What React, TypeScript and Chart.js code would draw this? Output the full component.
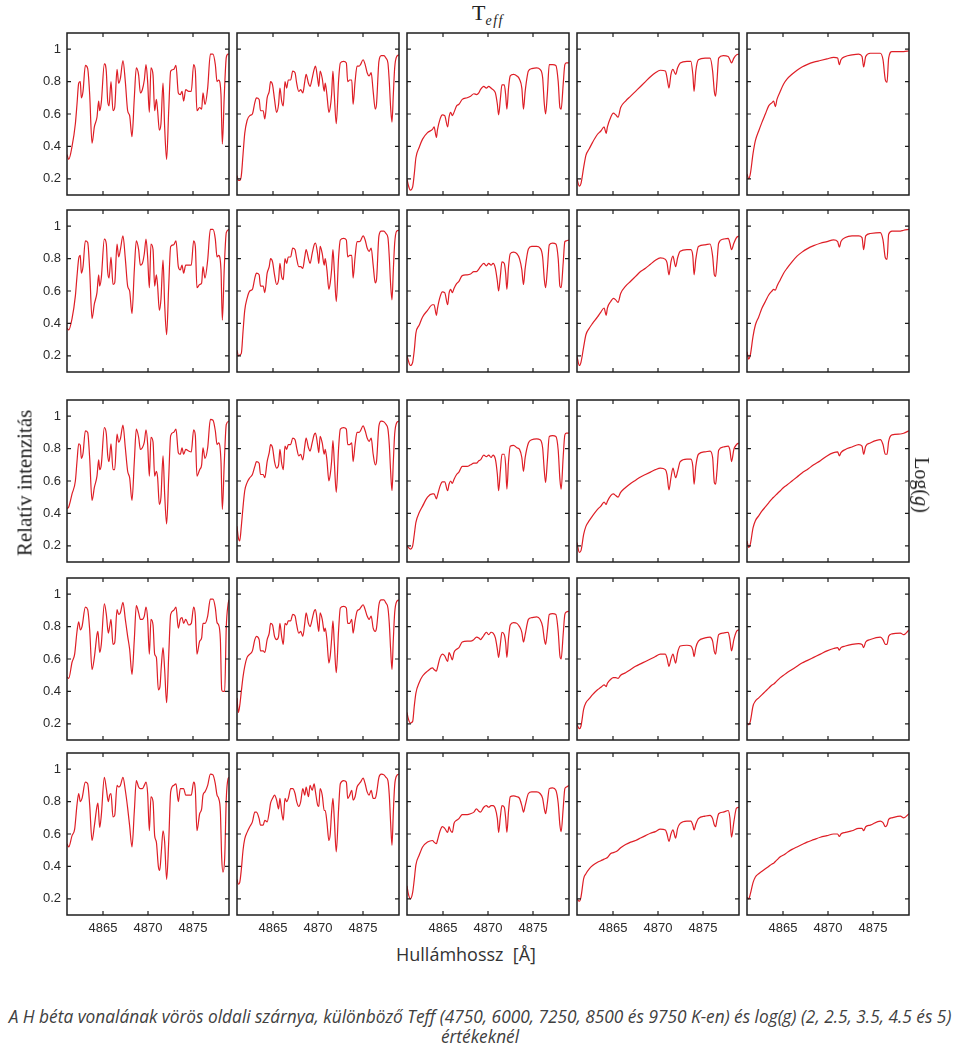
import React, { useEffect, useRef } from "react";
import { Chart, registerables } from "chart.js";

Chart.register(...registerables);

// ---------- axes ----------
const TEFF_VALUES = [4750, 6000, 7250, 8500, 9750]; // columns
const LOGG_VALUES = [2, 2.5, 3.5, 4.5, 5]; // rows
const X_TICKS = [4865, 4870, 4875];
const Y_TICKS = [0.2, 0.4, 0.6, 0.8, 1];
const X_MIN = 4861;
const X_MAX = 4879;
const Y_MIN = 0.1;
const Y_MAX = 1.1;

// ---------- Teff = 4750 K : [wavelength, intensity] ----------
const s4750_g20: number[][] = [[4861.00,0.35],[4861.19,0.32],[4861.56,0.40],[4861.93,0.54],[4862.11,0.66],[4862.30,0.79],[4862.48,0.80],[4862.59,0.70],[4862.78,0.74],[4863.04,0.90],[4863.30,0.88],[4863.52,0.72],[4863.78,0.42],[4864.04,0.52],[4864.33,0.58],[4864.52,0.68],[4864.63,0.62],[4864.81,0.67],[4865.15,0.91],[4865.37,0.86],[4865.52,0.68],[4865.67,0.65],[4865.89,0.80],[4866.11,0.62],[4866.30,0.64],[4866.56,0.875],[4866.74,0.79],[4866.93,0.82],[4867.22,0.93],[4867.48,0.80],[4867.74,0.62],[4867.96,0.59],[4868.22,0.46],[4868.48,0.70],[4868.70,0.885],[4868.96,0.84],[4869.15,0.73],[4869.37,0.75],[4869.59,0.81],[4869.78,0.905],[4869.96,0.80],[4870.15,0.61],[4870.33,0.885],[4870.56,0.84],[4870.74,0.62],[4870.93,0.69],[4871.07,0.62],[4871.26,0.50],[4871.44,0.54],[4871.67,0.79],[4871.85,0.52],[4872.07,0.32],[4872.30,0.62],[4872.52,0.865],[4872.85,0.875],[4873.11,0.90],[4873.37,0.73],[4873.59,0.72],[4873.78,0.74],[4873.96,0.68],[4874.19,0.75],[4874.52,0.74],[4874.81,0.74],[4875.07,0.905],[4875.26,0.865],[4875.44,0.62],[4875.74,0.64],[4875.96,0.63],[4876.11,0.73],[4876.33,0.66],[4876.63,0.76],[4876.93,0.97],[4877.22,0.97],[4877.48,0.905],[4877.67,0.80],[4877.85,0.81],[4878.11,0.72],[4878.26,0.415],[4878.48,0.72],[4878.70,0.95],[4878.89,0.97],[4879.00,0.97]];
const s4750_g25: number[][] = [[4861.00,0.37],[4861.19,0.36],[4861.56,0.43],[4861.93,0.57],[4862.11,0.69],[4862.30,0.80],[4862.48,0.82],[4862.59,0.71],[4862.78,0.75],[4863.04,0.91],[4863.30,0.90],[4863.52,0.73],[4863.78,0.43],[4864.04,0.52],[4864.33,0.59],[4864.52,0.70],[4864.63,0.63],[4864.81,0.68],[4865.15,0.92],[4865.37,0.89],[4865.52,0.72],[4865.67,0.68],[4865.89,0.81],[4866.11,0.64],[4866.30,0.65],[4866.56,0.89],[4866.74,0.81],[4866.93,0.855],[4867.22,0.94],[4867.48,0.80],[4867.74,0.63],[4867.96,0.60],[4868.22,0.46],[4868.48,0.73],[4868.70,0.91],[4868.96,0.855],[4869.15,0.76],[4869.37,0.77],[4869.59,0.83],[4869.78,0.92],[4869.96,0.81],[4870.15,0.62],[4870.33,0.89],[4870.56,0.855],[4870.74,0.63],[4870.93,0.70],[4871.07,0.63],[4871.26,0.48],[4871.44,0.55],[4871.67,0.79],[4871.85,0.52],[4872.07,0.33],[4872.30,0.63],[4872.52,0.875],[4872.85,0.885],[4873.11,0.91],[4873.37,0.75],[4873.59,0.73],[4873.78,0.76],[4873.96,0.71],[4874.19,0.76],[4874.52,0.76],[4874.81,0.76],[4875.07,0.91],[4875.26,0.875],[4875.44,0.62],[4875.74,0.64],[4875.96,0.65],[4876.11,0.75],[4876.33,0.68],[4876.63,0.79],[4876.93,0.98],[4877.22,0.98],[4877.48,0.92],[4877.67,0.81],[4877.85,0.82],[4878.11,0.73],[4878.26,0.42],[4878.48,0.75],[4878.70,0.96],[4879.00,0.98]];
const s4750_g35: number[][] = [[4861.00,0.43],[4861.19,0.44],[4861.56,0.52],[4861.93,0.60],[4862.11,0.72],[4862.30,0.83],[4862.48,0.82],[4862.59,0.74],[4862.78,0.77],[4863.04,0.91],[4863.30,0.90],[4863.52,0.74],[4863.78,0.48],[4864.04,0.56],[4864.33,0.63],[4864.52,0.73],[4864.63,0.67],[4864.81,0.70],[4865.15,0.93],[4865.37,0.89],[4865.52,0.76],[4865.67,0.72],[4865.89,0.83],[4866.11,0.67],[4866.30,0.67],[4866.56,0.89],[4866.74,0.84],[4866.93,0.86],[4867.22,0.945],[4867.48,0.805],[4867.74,0.66],[4867.96,0.62],[4868.22,0.48],[4868.48,0.72],[4868.70,0.92],[4868.96,0.87],[4869.15,0.795],[4869.37,0.805],[4869.59,0.84],[4869.78,0.915],[4869.96,0.83],[4870.15,0.63],[4870.33,0.87],[4870.56,0.84],[4870.74,0.63],[4870.93,0.66],[4871.07,0.62],[4871.26,0.455],[4871.44,0.50],[4871.67,0.755],[4871.85,0.52],[4872.07,0.335],[4872.30,0.62],[4872.52,0.88],[4872.85,0.90],[4873.11,0.92],[4873.37,0.775],[4873.59,0.765],[4873.78,0.805],[4873.96,0.765],[4874.19,0.795],[4874.52,0.785],[4874.81,0.78],[4875.07,0.915],[4875.26,0.88],[4875.44,0.63],[4875.74,0.67],[4875.96,0.70],[4876.11,0.805],[4876.33,0.74],[4876.63,0.805],[4876.93,0.98],[4877.22,0.975],[4877.48,0.91],[4877.67,0.825],[4877.85,0.835],[4878.11,0.72],[4878.26,0.425],[4878.48,0.72],[4878.70,0.95],[4879.00,0.97]];
const s4750_g45: number[][] = [[4861.00,0.49],[4861.19,0.48],[4861.56,0.58],[4861.85,0.63],[4862.11,0.77],[4862.30,0.83],[4862.48,0.78],[4862.67,0.80],[4863.04,0.92],[4863.30,0.905],[4863.52,0.78],[4863.78,0.535],[4864.04,0.61],[4864.33,0.75],[4864.44,0.77],[4864.63,0.64],[4864.81,0.69],[4865.15,0.94],[4865.37,0.875],[4865.59,0.76],[4865.74,0.80],[4865.89,0.845],[4866.11,0.69],[4866.30,0.70],[4866.56,0.905],[4866.74,0.875],[4866.93,0.885],[4867.22,0.95],[4867.48,0.845],[4867.74,0.74],[4867.96,0.66],[4868.22,0.505],[4868.48,0.72],[4868.70,0.93],[4868.96,0.885],[4869.15,0.845],[4869.37,0.845],[4869.59,0.865],[4869.78,0.92],[4869.96,0.845],[4870.15,0.63],[4870.33,0.845],[4870.56,0.81],[4870.74,0.63],[4870.93,0.61],[4871.15,0.41],[4871.33,0.43],[4871.48,0.555],[4871.67,0.67],[4871.85,0.535],[4872.07,0.33],[4872.30,0.62],[4872.52,0.875],[4872.85,0.90],[4873.11,0.92],[4873.37,0.79],[4873.59,0.845],[4873.78,0.855],[4873.96,0.82],[4874.19,0.845],[4874.52,0.81],[4874.81,0.82],[4875.07,0.92],[4875.26,0.865],[4875.44,0.63],[4875.74,0.71],[4875.96,0.73],[4876.11,0.82],[4876.33,0.82],[4876.63,0.865],[4876.93,0.97],[4877.22,0.97],[4877.48,0.915],[4877.67,0.825],[4877.85,0.81],[4878.04,0.72],[4878.19,0.41],[4878.33,0.40],[4878.52,0.40],[4878.70,0.80],[4878.89,0.935],[4879.00,0.965]];
const s4750_g50: number[][] = [[4861.00,0.54],[4861.19,0.52],[4861.56,0.59],[4861.85,0.63],[4862.11,0.78],[4862.30,0.85],[4862.48,0.80],[4862.67,0.82],[4863.04,0.92],[4863.30,0.91],[4863.52,0.78],[4863.78,0.56],[4864.04,0.65],[4864.33,0.77],[4864.44,0.79],[4864.63,0.64],[4864.81,0.715],[4865.15,0.95],[4865.37,0.88],[4865.59,0.80],[4865.74,0.84],[4865.89,0.85],[4866.11,0.705],[4866.30,0.715],[4866.56,0.90],[4866.74,0.89],[4866.93,0.90],[4867.22,0.95],[4867.48,0.87],[4867.74,0.76],[4867.96,0.65],[4868.22,0.52],[4868.48,0.74],[4868.70,0.93],[4868.96,0.89],[4869.15,0.88],[4869.37,0.88],[4869.59,0.90],[4869.78,0.92],[4869.96,0.85],[4870.15,0.62],[4870.33,0.83],[4870.56,0.80],[4870.74,0.59],[4870.93,0.55],[4871.15,0.40],[4871.30,0.375],[4871.48,0.49],[4871.67,0.62],[4871.85,0.55],[4872.07,0.32],[4872.30,0.55],[4872.52,0.86],[4872.85,0.90],[4873.11,0.91],[4873.37,0.80],[4873.59,0.88],[4873.78,0.88],[4873.96,0.88],[4874.19,0.84],[4874.52,0.84],[4874.81,0.84],[4875.07,0.92],[4875.26,0.87],[4875.44,0.62],[4875.74,0.725],[4875.96,0.755],[4876.11,0.84],[4876.33,0.86],[4876.63,0.90],[4876.93,0.97],[4877.22,0.965],[4877.48,0.91],[4877.67,0.84],[4877.85,0.82],[4878.04,0.74],[4878.19,0.45],[4878.33,0.365],[4878.52,0.45],[4878.70,0.82],[4878.89,0.94],[4879.00,0.95]];

// ---------- Teff = 6000 K ----------
const wl6000 = [4861.00,4861.15,4861.30,4861.48,4861.67,4861.86,4862.12,4862.42,4862.71,4862.98,4863.16,4863.46,4863.61,4863.91,4864.09,4864.35,4864.58,4864.73,4864.95,4865.17,4865.40,4865.62,4865.77,4865.96,4866.14,4866.33,4866.52,4866.70,4866.96,4867.19,4867.45,4867.63,4867.86,4868.08,4868.31,4868.53,4868.68,4868.94,4869.12,4869.35,4869.57,4869.72,4869.95,4870.09,4870.24,4870.47,4870.69,4870.80,4870.99,4871.21,4871.36,4871.51,4871.66,4871.81,4872.03,4872.29,4872.48,4872.85,4873.15,4873.30,4873.52,4873.75,4873.90,4874.12,4874.34,4874.57,4874.72,4875.01,4875.24,4875.46,4875.68,4875.91,4876.13,4876.36,4876.50,4876.77,4877.03,4877.33,4877.55,4877.77,4877.92,4878.07,4878.22,4878.37,4878.52,4878.74,4879.00];
const s6000_g20 = [0.22,0.19,0.19,0.22,0.35,0.48,0.56,0.59,0.60,0.67,0.70,0.69,0.62,0.62,0.57,0.70,0.74,0.80,0.78,0.69,0.61,0.66,0.76,0.68,0.65,0.80,0.76,0.81,0.81,0.865,0.855,0.79,0.74,0.75,0.73,0.80,0.845,0.79,0.77,0.82,0.875,0.895,0.82,0.77,0.865,0.82,0.74,0.79,0.72,0.61,0.64,0.72,0.865,0.72,0.54,0.81,0.915,0.925,0.915,0.80,0.81,0.81,0.66,0.80,0.895,0.895,0.905,0.935,0.905,0.855,0.835,0.855,0.74,0.63,0.66,0.925,0.96,0.96,0.945,0.915,0.80,0.64,0.55,0.72,0.885,0.955,0.965];
const s6000_g25 = [0.235,0.20,0.205,0.215,0.35,0.48,0.555,0.60,0.61,0.68,0.71,0.70,0.63,0.63,0.59,0.71,0.75,0.80,0.78,0.70,0.64,0.67,0.77,0.69,0.67,0.80,0.77,0.81,0.81,0.865,0.855,0.80,0.75,0.75,0.74,0.81,0.855,0.80,0.77,0.83,0.885,0.895,0.83,0.77,0.875,0.83,0.76,0.80,0.73,0.61,0.65,0.73,0.855,0.73,0.535,0.81,0.915,0.925,0.915,0.81,0.82,0.82,0.68,0.81,0.905,0.905,0.91,0.94,0.915,0.865,0.845,0.865,0.76,0.65,0.67,0.94,0.97,0.97,0.955,0.93,0.81,0.64,0.545,0.73,0.895,0.97,0.975];
const s6000_g35 = [0.32,0.25,0.23,0.32,0.44,0.54,0.59,0.62,0.64,0.69,0.72,0.71,0.64,0.64,0.62,0.72,0.775,0.825,0.805,0.72,0.68,0.70,0.795,0.71,0.67,0.815,0.795,0.825,0.825,0.865,0.855,0.805,0.755,0.765,0.73,0.815,0.865,0.805,0.785,0.835,0.885,0.895,0.825,0.775,0.875,0.835,0.765,0.795,0.73,0.60,0.64,0.72,0.85,0.72,0.53,0.805,0.92,0.93,0.92,0.825,0.825,0.835,0.72,0.825,0.90,0.90,0.91,0.94,0.91,0.865,0.845,0.865,0.765,0.70,0.72,0.94,0.97,0.965,0.95,0.92,0.825,0.66,0.54,0.72,0.89,0.96,0.97];
const s6000_g45 = [0.36,0.27,0.31,0.40,0.49,0.555,0.61,0.63,0.65,0.72,0.74,0.72,0.65,0.65,0.64,0.72,0.76,0.82,0.81,0.74,0.72,0.74,0.82,0.74,0.69,0.82,0.81,0.835,0.835,0.875,0.865,0.81,0.76,0.77,0.74,0.82,0.885,0.82,0.80,0.845,0.895,0.905,0.82,0.77,0.885,0.845,0.77,0.79,0.72,0.575,0.62,0.72,0.835,0.70,0.515,0.78,0.915,0.925,0.915,0.82,0.82,0.845,0.76,0.835,0.895,0.905,0.915,0.935,0.905,0.865,0.845,0.865,0.79,0.77,0.79,0.935,0.965,0.965,0.945,0.915,0.82,0.66,0.535,0.72,0.885,0.955,0.965];
const s6000_g50 = [0.32,0.29,0.30,0.38,0.50,0.57,0.61,0.645,0.675,0.735,0.735,0.695,0.655,0.655,0.685,0.675,0.735,0.79,0.82,0.84,0.81,0.755,0.82,0.735,0.685,0.82,0.80,0.82,0.88,0.88,0.85,0.80,0.77,0.80,0.88,0.84,0.89,0.83,0.90,0.87,0.91,0.86,0.78,0.77,0.88,0.84,0.745,0.745,0.675,0.56,0.60,0.735,0.82,0.695,0.49,0.755,0.91,0.93,0.92,0.82,0.84,0.87,0.81,0.83,0.89,0.91,0.92,0.945,0.91,0.86,0.84,0.87,0.82,0.82,0.85,0.95,0.97,0.965,0.95,0.93,0.84,0.67,0.53,0.735,0.90,0.96,0.97];

// ---------- Teff = 7250 K ----------
const wl7250 = [4861.00,4861.15,4861.37,4861.63,4861.81,4861.99,4862.36,4862.73,4863.28,4863.83,4864.01,4864.27,4864.38,4864.68,4864.93,4865.19,4865.52,4865.67,4865.85,4866.04,4866.22,4866.51,4866.77,4867.14,4867.69,4868.06,4868.43,4868.72,4868.98,4869.16,4869.53,4869.82,4870.08,4870.34,4870.56,4870.82,4871.04,4871.18,4871.37,4871.55,4871.81,4871.96,4872.10,4872.28,4872.47,4872.84,4873.21,4873.50,4873.76,4873.94,4874.13,4874.49,4874.86,4875.41,4875.78,4876.07,4876.26,4876.40,4876.59,4876.81,4877.18,4877.54,4877.80,4877.99,4878.13,4878.35,4878.54,4878.72,4879.00];
const s7250_g20 = [0.20,0.16,0.13,0.15,0.23,0.33,0.395,0.445,0.485,0.505,0.52,0.455,0.50,0.57,0.595,0.59,0.52,0.58,0.61,0.59,0.61,0.65,0.66,0.69,0.70,0.71,0.725,0.72,0.73,0.75,0.77,0.76,0.77,0.76,0.75,0.73,0.66,0.595,0.69,0.78,0.78,0.72,0.63,0.76,0.835,0.845,0.835,0.815,0.76,0.63,0.74,0.865,0.88,0.885,0.875,0.825,0.66,0.60,0.72,0.905,0.905,0.90,0.80,0.64,0.63,0.78,0.905,0.915,0.915];
const s7250_g25 = [0.20,0.17,0.14,0.16,0.235,0.34,0.39,0.44,0.48,0.515,0.515,0.45,0.49,0.565,0.595,0.59,0.515,0.585,0.61,0.59,0.615,0.645,0.66,0.695,0.70,0.705,0.72,0.72,0.735,0.75,0.77,0.755,0.77,0.76,0.77,0.74,0.66,0.60,0.69,0.78,0.77,0.71,0.61,0.75,0.83,0.84,0.83,0.80,0.73,0.64,0.74,0.86,0.875,0.875,0.865,0.81,0.67,0.62,0.73,0.885,0.895,0.89,0.80,0.63,0.62,0.77,0.905,0.91,0.915];
const s7250_g35 = [0.20,0.19,0.18,0.20,0.27,0.345,0.405,0.445,0.50,0.52,0.52,0.49,0.51,0.57,0.595,0.595,0.54,0.58,0.60,0.585,0.61,0.64,0.655,0.69,0.69,0.70,0.71,0.71,0.725,0.73,0.76,0.75,0.76,0.745,0.76,0.735,0.64,0.54,0.66,0.765,0.765,0.70,0.55,0.72,0.815,0.82,0.805,0.795,0.745,0.66,0.745,0.835,0.855,0.86,0.855,0.805,0.66,0.59,0.72,0.875,0.88,0.875,0.79,0.61,0.55,0.745,0.885,0.895,0.895];
const s7250_g45 = [0.27,0.23,0.205,0.215,0.31,0.39,0.455,0.495,0.525,0.545,0.535,0.525,0.545,0.61,0.63,0.62,0.585,0.64,0.62,0.595,0.64,0.66,0.67,0.705,0.71,0.71,0.72,0.735,0.73,0.72,0.745,0.765,0.75,0.765,0.76,0.73,0.66,0.61,0.69,0.765,0.75,0.70,0.61,0.73,0.81,0.825,0.82,0.80,0.765,0.705,0.75,0.845,0.855,0.86,0.845,0.80,0.72,0.69,0.77,0.875,0.88,0.875,0.77,0.62,0.60,0.75,0.875,0.89,0.895];
const s7250_g50 = [0.28,0.23,0.20,0.24,0.32,0.41,0.47,0.52,0.55,0.56,0.55,0.54,0.56,0.62,0.645,0.635,0.61,0.645,0.62,0.61,0.665,0.685,0.695,0.72,0.72,0.725,0.735,0.755,0.74,0.735,0.765,0.775,0.765,0.775,0.775,0.755,0.695,0.61,0.705,0.775,0.765,0.70,0.61,0.74,0.83,0.835,0.83,0.82,0.775,0.735,0.775,0.85,0.86,0.86,0.85,0.82,0.755,0.725,0.79,0.88,0.885,0.87,0.79,0.655,0.615,0.755,0.88,0.89,0.90];

// ---------- Teff = 8500 K ----------
const wl8500 = [4861.00,4861.26,4861.44,4861.74,4861.99,4862.36,4862.73,4863.28,4863.65,4864.01,4864.24,4864.38,4864.75,4865.04,4865.30,4865.56,4865.85,4866.40,4866.96,4867.51,4868.06,4868.61,4869.16,4869.71,4870.26,4870.82,4871.00,4871.22,4871.44,4871.66,4871.96,4872.18,4872.47,4873.21,4873.65,4873.87,4874.01,4874.20,4874.49,4875.23,4875.78,4876.07,4876.26,4876.40,4876.55,4876.74,4877.25,4877.80,4877.99,4878.17,4878.43,4878.72,4879.00];
const s8500_g20 = [0.20,0.155,0.17,0.27,0.345,0.385,0.425,0.475,0.495,0.52,0.48,0.52,0.58,0.605,0.595,0.58,0.64,0.68,0.71,0.74,0.77,0.80,0.83,0.855,0.87,0.865,0.825,0.76,0.845,0.875,0.845,0.885,0.915,0.925,0.925,0.845,0.74,0.865,0.935,0.945,0.945,0.865,0.74,0.71,0.80,0.945,0.96,0.955,0.935,0.915,0.945,0.965,0.97];
const s8500_g25 = [0.195,0.14,0.16,0.255,0.33,0.37,0.40,0.44,0.47,0.495,0.45,0.495,0.535,0.555,0.545,0.53,0.585,0.63,0.66,0.69,0.72,0.74,0.765,0.79,0.805,0.795,0.775,0.70,0.78,0.815,0.75,0.805,0.845,0.855,0.855,0.815,0.70,0.795,0.875,0.885,0.89,0.815,0.70,0.69,0.775,0.895,0.92,0.925,0.895,0.855,0.895,0.93,0.94];
const s8500_g35 = [0.22,0.16,0.17,0.27,0.32,0.355,0.385,0.425,0.445,0.47,0.455,0.475,0.51,0.52,0.51,0.50,0.53,0.56,0.585,0.605,0.625,0.64,0.655,0.67,0.68,0.67,0.64,0.545,0.62,0.68,0.62,0.66,0.72,0.735,0.735,0.69,0.58,0.69,0.765,0.78,0.785,0.745,0.59,0.58,0.66,0.79,0.81,0.815,0.79,0.72,0.795,0.825,0.835];
const s8500_g45 = [0.195,0.17,0.185,0.29,0.33,0.355,0.38,0.41,0.425,0.44,0.43,0.45,0.475,0.485,0.485,0.48,0.50,0.515,0.535,0.555,0.57,0.585,0.60,0.615,0.63,0.63,0.605,0.555,0.60,0.63,0.575,0.64,0.68,0.685,0.68,0.655,0.615,0.67,0.71,0.73,0.735,0.71,0.645,0.63,0.69,0.75,0.76,0.765,0.72,0.65,0.72,0.77,0.78];
const s8500_g50 = [0.20,0.185,0.21,0.325,0.355,0.385,0.405,0.425,0.435,0.445,0.45,0.455,0.48,0.485,0.49,0.50,0.515,0.535,0.55,0.56,0.575,0.59,0.605,0.615,0.63,0.625,0.60,0.555,0.60,0.625,0.575,0.635,0.665,0.68,0.68,0.655,0.625,0.66,0.695,0.71,0.715,0.695,0.655,0.645,0.685,0.725,0.735,0.745,0.70,0.58,0.675,0.76,0.765];

// ---------- Teff = 9750 K ----------
const wl9750 = [4861.00,4861.19,4861.37,4861.67,4861.93,4862.30,4862.67,4863.04,4863.41,4863.78,4863.96,4864.15,4864.33,4864.70,4865.07,4865.44,4866.00,4866.56,4867.11,4867.67,4868.41,4869.15,4869.89,4870.63,4871.07,4871.26,4871.44,4871.93,4872.67,4873.41,4873.78,4873.96,4874.19,4874.70,4875.81,4876.11,4876.37,4876.56,4876.74,4877.11,4878.04,4878.41,4879.00];
const s9750_g20 = [0.23,0.20,0.23,0.355,0.435,0.495,0.55,0.60,0.65,0.67,0.68,0.645,0.69,0.74,0.785,0.815,0.845,0.87,0.89,0.905,0.92,0.93,0.94,0.95,0.945,0.905,0.935,0.955,0.965,0.97,0.955,0.89,0.955,0.975,0.975,0.935,0.81,0.795,0.945,0.985,0.985,0.985,0.99];
const s9750_g25 = [0.225,0.18,0.205,0.32,0.39,0.44,0.495,0.535,0.575,0.60,0.61,0.605,0.63,0.67,0.71,0.74,0.78,0.815,0.84,0.86,0.88,0.895,0.905,0.915,0.905,0.87,0.905,0.93,0.94,0.94,0.93,0.855,0.94,0.955,0.96,0.915,0.805,0.795,0.95,0.97,0.97,0.975,0.98];
const s9750_g35 = [0.23,0.19,0.21,0.31,0.355,0.385,0.415,0.44,0.465,0.49,0.50,0.51,0.52,0.54,0.56,0.575,0.60,0.625,0.65,0.67,0.70,0.725,0.755,0.775,0.78,0.755,0.775,0.795,0.81,0.825,0.815,0.765,0.815,0.835,0.855,0.825,0.765,0.765,0.845,0.885,0.89,0.895,0.91];
const s9750_g45 = [0.205,0.195,0.215,0.31,0.34,0.36,0.38,0.40,0.42,0.44,0.445,0.455,0.465,0.485,0.50,0.515,0.535,0.555,0.575,0.59,0.61,0.63,0.65,0.665,0.67,0.655,0.67,0.68,0.69,0.695,0.69,0.67,0.705,0.72,0.735,0.72,0.69,0.69,0.74,0.755,0.76,0.75,0.78];
const s9750_g50 = [0.21,0.20,0.23,0.30,0.335,0.355,0.37,0.385,0.40,0.415,0.42,0.43,0.44,0.46,0.47,0.485,0.505,0.52,0.535,0.55,0.565,0.58,0.59,0.60,0.60,0.585,0.60,0.61,0.62,0.635,0.635,0.62,0.645,0.655,0.68,0.67,0.645,0.655,0.69,0.70,0.71,0.70,0.725];

// ---------- texts ----------
const Y_LABEL = "Relatív intenzitás";
const X_LABEL = "Hullámhossz  [Å]";
const CAPTION_1 = "A H béta vonalának vörös oldali szárnya, különböző Teff (4750, 6000, 7250, 8500 és 9750 K-en) és log(g) (2, 2.5, 3.5, 4.5 és 5)";
const CAPTION_2 = "értékeknél";

// ---------- assemble ----------
const zip = (wl: number[], v: number[]) => wl.map((x, i) => [x, v[i]]);
const GRID: number[][][][] = [
  [s4750_g20, zip(wl6000, s6000_g20), zip(wl7250, s7250_g20), zip(wl8500, s8500_g20), zip(wl9750, s9750_g20)],
  [s4750_g25, zip(wl6000, s6000_g25), zip(wl7250, s7250_g25), zip(wl8500, s8500_g25), zip(wl9750, s9750_g25)],
  [s4750_g35, zip(wl6000, s6000_g35), zip(wl7250, s7250_g35), zip(wl8500, s8500_g35), zip(wl9750, s9750_g35)],
  [s4750_g45, zip(wl6000, s6000_g45), zip(wl7250, s7250_g45), zip(wl8500, s8500_g45), zip(wl9750, s9750_g45)],
  [s4750_g50, zip(wl6000, s6000_g50), zip(wl7250, s7250_g50), zip(wl8500, s8500_g50), zip(wl9750, s9750_g50)],
];

// ---------- layout ----------
const COL_LEFT = [67, 237, 407, 577, 747];
const ROW_TOP = [33, 210, 400, 578, 753];
const PANEL_W = 162;
const PANEL_H = 162;
const PAD = 3;
const LABEL_W = 50;
const XLABEL_H = 24;
const TICK_LEN = 4;
const LINE_COLOR = "rgb(222,30,38)";
const FRAME_COLOR = "#1e1e1e";
const TICK_FONT = { family: "'Liberation Sans', Arial, sans-serif", size: 13 };
const TEXT_COLOR = "#2a2a2a";

const framePlugin = {
  id: "frameTicks",
  afterDraw(chart: any) {
    const { ctx, chartArea } = chart;
    const { left, right, top, bottom } = chartArea;
    const xs = chart.scales.x;
    const ys = chart.scales.y;
    ctx.save();
    ctx.strokeStyle = FRAME_COLOR;
    ctx.lineWidth = 1.5;
    ctx.strokeRect(left, top, right - left, bottom - top);
    ctx.lineWidth = 1.2;
    ctx.beginPath();
    X_TICKS.forEach((v) => {
      const px = xs.getPixelForValue(v);
      ctx.moveTo(px, top);
      ctx.lineTo(px, top + TICK_LEN);
      ctx.moveTo(px, bottom);
      ctx.lineTo(px, bottom - TICK_LEN);
    });
    Y_TICKS.forEach((v) => {
      const py = ys.getPixelForValue(v);
      ctx.moveTo(left, py);
      ctx.lineTo(left + TICK_LEN, py);
      ctx.moveTo(right, py);
      ctx.lineTo(right - TICK_LEN, py);
    });
    ctx.stroke();
    ctx.restore();
  },
};

function Panel({ row, col, points }: { row: number; col: number; points: number[][] }) {
  const ref = useRef<HTMLCanvasElement | null>(null);
  const firstCol = col === 0;
  const lastRow = row === LOGG_VALUES.length - 1;
  const yW = firstCol ? LABEL_W : 0;
  const xH = lastRow ? XLABEL_H : 0;
  const padL = firstCol ? 0 : PAD;
  const padB = lastRow ? 0 : PAD;
  const w = padL + yW + PANEL_W + PAD;
  const h = PAD + PANEL_H + xH + padB;
  const left = COL_LEFT[col] - padL - yW;
  const top = ROW_TOP[row] - PAD;

  useEffect(() => {
    const canvas = ref.current;
    if (!canvas) return;
    const chart = new Chart(canvas, {
      type: "line",
      data: {
        datasets: [
          {
            label: `Teff ${TEFF_VALUES[col]} K, log g ${LOGG_VALUES[row]}`,
            data: points.map(([x, y]) => ({ x, y })),
            borderColor: LINE_COLOR,
            borderWidth: 1.2,
            pointRadius: 0,
            fill: false,
            cubicInterpolationMode: "monotone",
          },
        ],
      },
      options: {
        animation: false,
        responsive: false,
        devicePixelRatio: 1,
        events: [],
        layout: { padding: { left: padL, right: PAD, top: PAD, bottom: padB } },
        plugins: { legend: { display: false }, tooltip: { enabled: false }, title: { display: false } },
        scales: {
          x: {
            type: "linear",
            min: X_MIN,
            max: X_MAX,
            grid: { display: false, drawTicks: false },
            border: { display: false },
            afterBuildTicks: (s: any) => {
              s.ticks = X_TICKS.map((v) => ({ value: v }));
            },
            afterFit: (s: any) => {
              s.height = xH;
              s.paddingLeft = 0;
              s.paddingRight = 0;
              s.paddingTop = 0;
              s.paddingBottom = 0;
            },
            ticks: {
              display: lastRow,
              padding: 6,
              font: TICK_FONT,
              color: TEXT_COLOR,
              maxRotation: 0,
              autoSkip: false,
              callback: (v: any) => String(v),
            },
          },
          y: {
            type: "linear",
            min: Y_MIN,
            max: Y_MAX,
            grid: { display: false, drawTicks: false },
            border: { display: false },
            afterBuildTicks: (s: any) => {
              s.ticks = Y_TICKS.map((v) => ({ value: v }));
            },
            afterFit: (s: any) => {
              s.width = yW;
              s.paddingLeft = 0;
              s.paddingRight = 0;
              s.paddingTop = 0;
              s.paddingBottom = 0;
            },
            ticks: {
              display: firstCol,
              padding: 6,
              font: TICK_FONT,
              color: TEXT_COLOR,
              autoSkip: false,
              callback: (v: any) => String(v),
            },
          },
        },
      } as any,
      plugins: [framePlugin],
    });
    return () => chart.destroy();
  }, [row, col, points]);

  return (
    <canvas
      ref={ref}
      width={w}
      height={h}
      style={{ position: "absolute", left, top, width: w, height: h }}
    />
  );
}

export default function App() {
  const serif = "'Liberation Serif', 'DejaVu Serif', serif";
  return (
    <div
      style={{
        position: "absolute",
        left: 0,
        top: 0,
        width: 960,
        height: 1049,
        background: "#fff",
        overflow: "hidden",
      }}
    >
      {GRID.map((rowData, r) =>
        rowData.map((pts, c) => <Panel key={`${r}-${c}`} row={r} col={c} points={pts} />)
      )}

      {/* Teff title */}
      <div
        style={{
          position: "absolute",
          left: 488,
          top: 2,
          transform: "translateX(-50%)",
          fontFamily: serif,
          color: "#222",
          whiteSpace: "nowrap",
          lineHeight: 1,
        }}
      >
        <span style={{ fontSize: 22 }}>T</span>
        <span style={{ fontSize: 14, fontStyle: "italic", position: "relative", top: 5, letterSpacing: 1.5 }}>eff</span>
      </div>

      {/* y label */}
      <div
        style={{
          position: "absolute",
          left: 25,
          top: 483,
          transform: "translate(-50%, -50%) rotate(-90deg)",
          fontFamily: serif,
          fontSize: 21,
          color: "#222",
          whiteSpace: "nowrap",
          lineHeight: 1,
        }}
      >
        {Y_LABEL}
      </div>

      {/* right label */}
      <div
        style={{
          position: "absolute",
          left: 922,
          top: 485,
          transform: "translate(-50%, -50%) rotate(90deg)",
          fontFamily: serif,
          fontSize: 20,
          color: "#222",
          whiteSpace: "nowrap",
          lineHeight: 1,
        }}
      >
        Log(<span style={{ fontStyle: "italic" }}>g</span>)
      </div>

      {/* x label */}
      <div
        style={{
          position: "absolute",
          left: 466,
          top: 954,
          transform: "translate(-50%, -50%)",
          fontFamily: "'Open Sans', 'Noto Sans', sans-serif",
          fontSize: 18,
          color: "#333",
          whiteSpace: "pre",
          lineHeight: 1,
        }}
      >
        {X_LABEL}
      </div>

      {/* caption */}
      <div
        style={{
          position: "absolute",
          left: 0,
          width: 960,
          top: 1007,
          textAlign: "center",
          fontFamily: "'Open Sans', 'Noto Sans', sans-serif",
          fontStyle: "italic",
          fontSize: 17.3,
          color: "#404040",
          lineHeight: "20px",
        }}
      >
        <div style={{ whiteSpace: "nowrap" }}>{CAPTION_1}</div>
        <div style={{ whiteSpace: "nowrap" }}>{CAPTION_2}</div>
      </div>
    </div>
  );
}
